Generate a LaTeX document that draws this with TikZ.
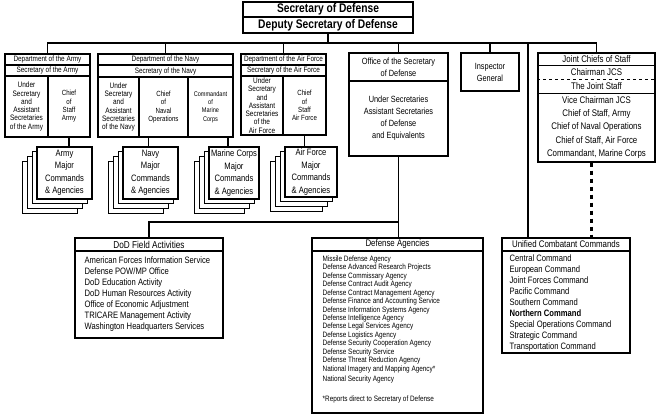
\documentclass[tikz,border=0pt]{standalone}
\usepackage{fontspec}
\setmainfont{Liberation Sans}[FakeStretch=0.82]
\usetikzlibrary{calc}
\newcommand\szTitle{\fontsize{12.5}{13}\selectfont\bfseries}
\newcommand\szDeptH{\fontsize{7.8}{8.3}\selectfont}
\newcommand\szDeptU{\fontsize{7.9}{8.3}\selectfont}
\newcommand\szDeptC{\fontsize{7.5}{8.3}\selectfont}
\newcommand\szDeptM{\fontsize{6.8}{8.3}\selectfont}
\newcommand\szStack{\fontsize{9.3}{12.5}\selectfont}
\newcommand\szOSD{\fontsize{9}{12}\selectfont}
\newcommand\szJ{\fontsize{9.6}{13.3}\selectfont}
\newcommand\szHead{\fontsize{9.6}{11}\selectfont}
\newcommand\szHeadF{\fontsize{10}{11}\selectfont}
\newcommand\szList{\fontsize{9.3}{11}\selectfont}
\newcommand\szDA{\fontsize{7.8}{8.45}\selectfont}
% \bx[opts]{name}{x1}{y1}{x2}{y2}{text}
\newcommand\bx[7][]{\node[box,minimum width={#5-#3},minimum height={#6-#4},#1] (#2) at ({(#3+#5)/2},{(#4+#6)/2}) {#7};}
\newcommand\stk[6]{%
  \foreach \k in {3,2,1}{\draw[plate] ({#2-4.7*\k},{#3+4.7*\k}) rectangle ({#4-4.7*\k},{#5+4.7*\k});}
  \bx[font=\szStack]{#1}{#2}{#3}{#4}{#5}{#6}}
\begin{document}
\begin{tikzpicture}[x=1pt,y=-1pt,
  box/.style={draw,line width=1.1pt,fill=white,inner sep=0pt,align=center},
  plate/.style={draw,line width=1.1pt,fill=white},
  depth/.style={font=\szDeptH},
  deptu/.style={font=\szDeptU},
  deptc/.style={font=\szDeptC},
  conn/.style={line width=1.2pt},
  jdash/.style={line width=2.6pt,dash pattern=on 4.7pt off 3.3pt}]
\useasboundingbox (0,0) rectangle (662,418);
\fill[white] (0,0) rectangle (662,418);

% top
\bx[font=\szTitle]{secdef}{243}{2}{413}{17}{Secretary of Defense}
\bx[font=\szTitle]{depsec}{243}{17}{413}{33}{Deputy Secretary of Defense}
\coordinate (bus) at (330,43);

% Army
\bx[depth]{armyh}{5}{54}{90}{65}{Department of the Army}
\bx[depth]{armys}{5}{65}{90}{76}{Secretary of the Army}
\bx[deptu]{armyu}{5}{76}{48}{137}{Under\\Secretary\\and\\Assistant\\Secretaries\\of the Army}
\bx[deptc]{armyc}{48}{76}{90}{137}{Chief\\of\\Staff\\Army}
\stk{armystk}{37}{147}{92}{199}{Army\\Major\\Commands\\\& Agencies}

% Navy
\bx[depth]{navyh}{98}{54}{233}{65}{Department of the Navy}
\bx[depth]{navys}{98}{65}{233}{77}{Secretary of the Navy}
\bx[deptu]{navyu}{98}{77}{139}{137}{Under\\Secretary\\and\\Assistant\\Secretaries\\of the Navy}
\bx[deptc]{navyc}{139}{77}{188}{137}{Chief\\of\\Naval\\Operations}
\bx[font=\szDeptM]{navym}{188}{77}{233}{137}{Commandant\\of\\Marine\\Corps}
\stk{navystk}{123}{147}{178}{199}{Navy\\Major\\Commands\\\& Agencies}
\stk{marstk}{209}{147}{259}{199}{Marine Corps\\Major\\Commands\\\& Agencies}

% Air Force
\bx[depth]{afh}{241}{54}{326}{65}{Department of the Air Force}
\bx[depth]{afs}{241}{65}{326}{76}{Secretary of the Air Force}
\bx[deptu]{afu}{241}{76}{283}{135}{Under\\Secretary\\and\\Assistant\\Secretaries\\of the\\Air Force}
\bx[deptc]{afc}{283}{76}{326}{135}{Chief\\of\\Staff\\Air Force}
\stk{afstk}{285}{147}{337}{197}{Air Force\\Major\\Commands\\\& Agencies}

% OSD
\bx[font=\szOSD]{osdh}{349}{53}{448}{81}{Office of the Secretary\\of Defense}
\bx[font=\szOSD]{osdb}{349}{81}{448}{156}{Under Secretaries\\Assistant Secretaries\\of Defense\\and Equivalents}

% IG
\bx[font=\szOSD]{ig}{461}{53}{519}{91}{Inspector\\General}

% JCS
\bx{jcsbox}{538}{53}{655}{162}{}
\bx[draw=none,fill=none,font=\szJ]{jcsh}{538}{53}{655}{65}{Joint Chiefs of Staff}
\bx[draw=none,fill=none,font=\szJ]{jcsc}{538}{65}{655}{79}{Chairman JCS}
\bx[draw=none,fill=none,font=\szJ]{jcss}{538}{79}{655}{93}{The Joint Staff}
\bx[draw=none,fill=none,font=\szJ]{jcsb}{538}{93}{655}{162}{Vice Chairman JCS\\Chief of Staff, Army\\Chief of Naval Operations\\Chief of Staff, Air Force\\Commandant, Marine Corps}
\draw[line width=1.1pt] (jcsh.south west) -- (jcsh.south east);
\draw[line width=0.9pt,dashed] (jcsc.south west) -- (jcsc.south east);
\draw[line width=1.1pt] (jcss.south west) -- (jcss.south east);

% bottom boxes
\bx[font=\szHeadF]{fah}{75}{238}{223}{251}{DoD Field Activities}
\bx{fab}{75}{251}{223}{338}{}
\node[anchor=north west,align=left,inner sep=0pt,font=\szList] (falist) at ($(fab.north west)+(10,6)$) {American Forces Information Service\\Defense POW/MP Office\\DoD Education Activity\\DoD Human Resources Activity\\Office of Economic Adjustment\\TRICARE Management Activity\\Washington Headquarters Services};

\bx[font=\szHead]{dah}{312}{238}{483}{251}{Defense Agencies}
\bx{dab}{312}{251}{483}{413}{}
\node[anchor=north west,align=left,inner sep=0pt,font=\szDA] (dalist) at ($(dab.north west)+(11,5)$) {Missile Defense Agency\\Defense Advanced Research Projects\\Defense Commissary Agency\\Defense Contract Audit Agency\\Defense Contract Management Agency\\Defense Finance and Accounting Service\\Defense Information Systems Agency\\Defense Intelligence Agency\\Defense Legal Services Agency\\Defense Logistics Agency\\Defense Security Cooperation Agency\\Defense Security Service\\Defense Threat Reduction Agency\\National Imagery and Mapping Agency*\\[2.2pt]National Security Agency\\[11.5pt]*Reports direct to Secretary of Defense};

\bx[font=\szHead]{ucch}{502}{238}{630}{251}{Unified Combatant Commands}
\bx{uccb}{502}{251}{630}{353}{}
\node[anchor=north west,align=left,inner sep=0pt,font=\szList] (ucclist) at ($(uccb.north west)+(8,4)$) {Central Command\\European Command\\Joint Forces Command\\Pacific Command\\Southern Command\\\textbf{Northern Command}\\Special Operations Command\\Strategic Command\\Transportation Command};

% connectors
\draw[conn] (depsec.south) -- (depsec.south |- bus);
\draw[conn] (armyh.north) -- (armyh.north |- bus) -- (jcsh.north |- bus) -- (jcsh.north);
\draw[conn] (navyh.north |- bus) -- (navyh.north);
\draw[conn] (afh.north |- bus) -- (afh.north);
\draw[conn] (osdh.north |- bus) -- (osdh.north);
\draw[conn] (ig.north |- bus) -- (ig.north);
\coordinate (ucctap) at (528,43);
\draw[conn] (ucctap) -- (ucctap |- ucch.north);
\draw[conn] (armyc.south) -- (armyc.south |- armystk.north);
\coordinate (navytap) at ($(navystk.north)+(-2,0)$);
\draw[conn] (navytap |- navyc.south) -- (navytap);
\coordinate (martap) at ($(marstk.north)+(-6,0)$);
\draw[conn] (martap |- navym.south) -- (martap);
\draw[conn] (afc.south) -- (afc.south |- afstk.north);
\coordinate (lowbus) at (0,222);
\draw[conn] (osdb.south) -- (osdb.south |- dah.north);
\draw[conn] (osdb.south |- lowbus) -| (fah.north);
\coordinate (jtap) at ($(jcsbox.south)+(-5,0)$);
\draw[jdash] (jtap) -- (jtap |- ucch.north);
\end{tikzpicture}
\end{document}
